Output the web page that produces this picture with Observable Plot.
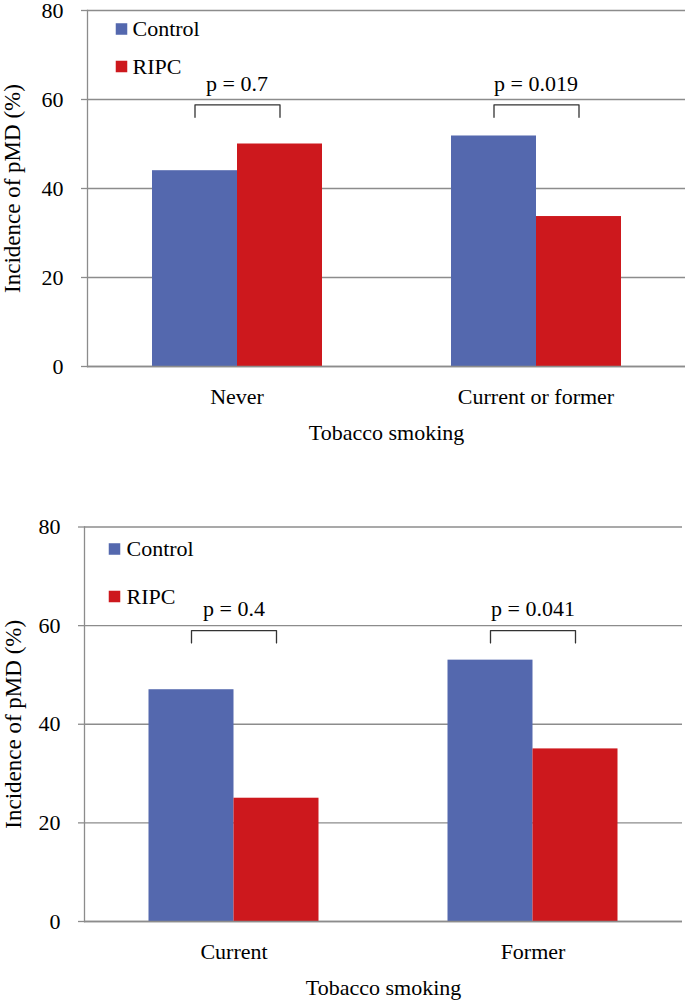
<!DOCTYPE html>
<html><head><meta charset="utf-8">
<script src="https://cdn.jsdelivr.net/npm/d3@7"></script>
<script src="https://cdn.jsdelivr.net/npm/@observablehq/plot@0.6"></script>
<style>
body{margin:0;background:#fff;}
#root{width:689px;}
#root svg{display:block;}
</style></head><body><div id="root"></div>
<script>
// ---- data ----
const series = ["Control", "RIPC"];
const seriesColors = ["#5468AE", "#CD181D"];
const yTicks = [0, 20, 40, 60, 80];
const yLabel = "Incidence of pMD (%)";
const xLabel = "Tobacco smoking";

const topCategories = ["Never", "Current or former"];
const topControl = [44.0, 51.8];
const topRIPC = [50.0, 33.7];
const topPLabels = ["p = 0.7", "p = 0.019"];
const topBracketTop = [58.8, 58.8];
const topBracketEnd = [56.0, 56.0];
const topPLabelY = [62.0, 62.0];

const bottomCategories = ["Current", "Former"];
const bottomControl = [47.0, 53.0];
const bottomRIPC = [25.0, 35.0];
const bottomPLabels = ["p = 0.4", "p = 0.041"];
const bottomBracketTop = [59.0, 59.0];
const bottomBracketEnd = [56.5, 56.5];
const bottomPLabelY = [62.0, 62.0];

const FONT = "'Liberation Serif', 'Times New Roman', serif";
const grid = "#8c8c8c";

function chart(cfg) {
  const {categories, control, ripc, pLabels, bracketTop, bracketEnd, pLabelY} = cfg;
  const first = () => categories[0];
  const bars = categories.flatMap((c, i) => [
    {category: c, series: series[0], value: control[i]},
    {category: c, series: series[1], value: ripc[i]}
  ]);
  const brackets = categories.flatMap((c, i) => [
    {category: c, series: series[0], y: bracketEnd[i]},
    {category: c, series: series[0], y: bracketTop[i]},
    {category: c, series: series[1], y: bracketTop[i]},
    {category: c, series: series[1], y: bracketEnd[i]}
  ]);
  const pRows = categories.map((c, i) => ({category: c, text: pLabels[i], y: pLabelY[i]}));
  const legendMarks = series.flatMap((s, i) => [
    Plot.dot([s], {fx: first, frameAnchor: "top-left", dx: cfg.legend.sqDx, dy: cfg.legend.dy[i],
      symbol: "square", r: 6.5, fill: seriesColors[i], stroke: "none"}),
    Plot.text([s], {fx: first, frameAnchor: "top-left", dx: cfg.legend.txDx, dy: cfg.legend.dy[i],
      text: d => d, textAnchor: "start", lineAnchor: "middle", fill: "#000", fontFamily: FONT})
  ]);
  return Plot.plot({
    width: 689,
    height: cfg.height,
    marginTop: cfg.marginTop,
    marginBottom: cfg.marginBottom,
    marginLeft: cfg.marginLeft,
    marginRight: cfg.marginRight,
    style: {fontSize: "22px", fontFamily: FONT, color: "#000", background: "white", overflow: "visible"},
    fx: {domain: categories, padding: 0},
    x: {domain: series, paddingInner: 0, paddingOuter: 0.75, axis: null},
    y: {domain: [0, 80], axis: null},
    color: {domain: series, range: seriesColors},
    marks: [
      Plot.ruleY(yTicks, {stroke: grid, strokeWidth: 1.3}),
      Plot.barY(bars, {fx: "category", x: "series", y: "value", fill: "series"}),
      Plot.ruleY([0], {stroke: grid, strokeWidth: 1.3}),
      Plot.frame({anchor: "left", facetAnchor: "left", stroke: grid, strokeWidth: 1.3}),
      Plot.axisY({ticks: yTicks, tickSize: 6, tickPadding: 18, stroke: grid, strokeWidth: 1.3,
        tickFormat: d => String(d), label: null, fontFamily: FONT}),
      Plot.text([yLabel], {fx: first, frameAnchor: "left", rotate: -90, dx: -cfg.yLabelDx,
        text: d => d, textAnchor: "middle", lineAnchor: "top", fill: "#000", fontSize: 23, fontFamily: FONT}),
      Plot.axisFx({anchor: "bottom", tickSize: 0, tickPadding: 22, label: xLabel,
        labelAnchor: "center", labelOffset: 73, labelArrow: "none", fontFamily: FONT}),
      Plot.line(brackets, {fx: "category", x: "series", y: "y", z: "category", stroke: "#333", strokeWidth: 1.3}),
      Plot.text(pRows, {fx: "category", y: "y", text: "text", lineAnchor: "bottom", fill: "#000", fontFamily: FONT}),
      ...legendMarks
    ]
  });
}

const root = document.getElementById("root");
root.append(chart({
  categories: topCategories, control: topControl, ripc: topRIPC, pLabels: topPLabels,
  bracketTop: topBracketTop, bracketEnd: topBracketEnd, pLabelY: topPLabelY,
  height: 452, marginTop: 10, marginBottom: 86, marginLeft: 87, marginRight: 4,
  yLabelDx: 84,
  legend: {sqDx: 34, txDx: 45, dy: [18.5, 56]}
}));
root.append(chart({
  categories: bottomCategories, control: bottomControl, ripc: bottomRIPC, pLabels: bottomPLabels,
  bracketTop: bottomBracketTop, bracketEnd: bottomBracketEnd, pLabelY: bottomPLabelY,
  height: 550, marginTop: 74.5, marginBottom: 81, marginLeft: 83.5, marginRight: 6.5,
  yLabelDx: 80,
  legend: {sqDx: 30, txDx: 42, dy: [22, 69.5]}
}));
</script></body></html>
